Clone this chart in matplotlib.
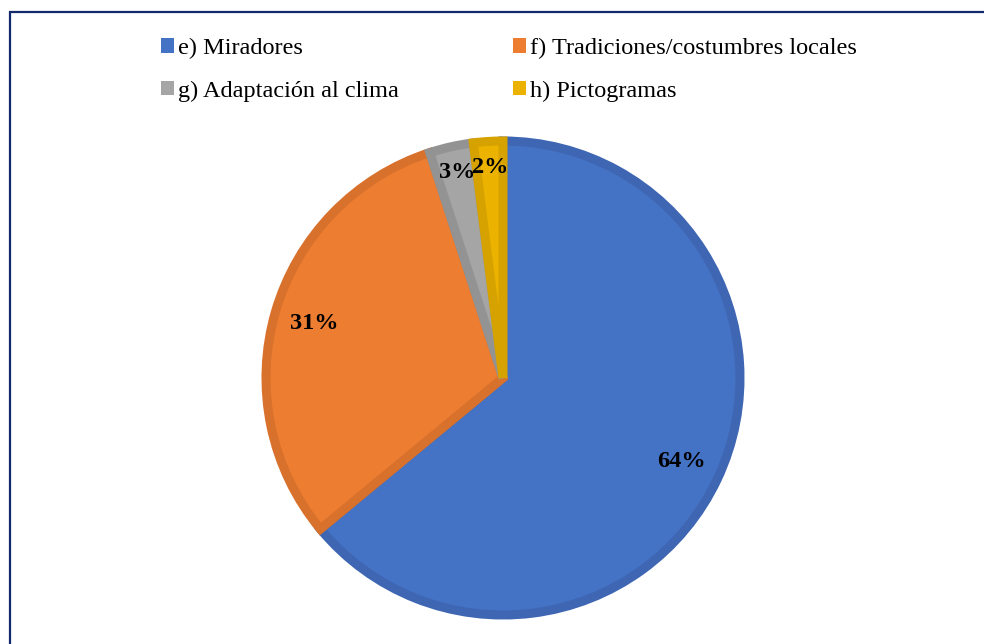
import matplotlib.pyplot as plt
from matplotlib.patches import Rectangle, Patch

labels = ["e) Miradores", "f) Tradiciones/costumbres locales",
          "g) Adaptación al clima", "h) Pictogramas"]
values = [64, 31, 3, 2]

fills = ["#4472C4", "#ED7D31", "#A5A5A5", "#EBB300"]
edges = ["#3F66B2", "#D8712C", "#939393", "#D6A200"]

W, H, DPI = 984, 644, 100
cx, cy, R = 503, 378, 237  # pie centre / radius in pixels

plt.rcParams['font.family'] = ['Liberation Serif', 'DejaVu Serif']

fig = plt.figure(figsize=(W / DPI, H / DPI), dpi=DPI)
ax = fig.add_axes([0, 0, 1, 1])

wedges, texts, autotexts = ax.pie(
    values, colors=fills, startangle=90, counterclock=False,
    autopct=lambda p: f"{p:.0f}%", pctdistance=0.83, radius=1,
    wedgeprops=dict(linewidth=6.5, joinstyle='miter'),
    textprops=dict(fontsize=17.5, fontweight='bold', color='black'))

# pie() resets the limits, so put them back for pixel placement
ax.set_xlim(-cx / R, (W - cx) / R)
ax.set_ylim(-(H - cy) / R, cy / R)
ax.axis('off')

for w, ec in zip(wedges, edges):
    w.set_edgecolor(ec)

# small slices: labels sit a bit further out
for t, v in zip(autotexts, values):
    if v < 5:
        x, y = t.get_position()
        t.set_position((x * 1.07, y * 1.07))

# legend fills by column, so reorder to get e f / g h in rows
order = [0, 2, 1, 3]
handles = [Patch(facecolor=fills[i], edgecolor='none') for i in order]
fig.legend(handles, [labels[i] for i in order], ncol=2, loc='upper left',
           bbox_to_anchor=(161 / W, 1 - 38 / H), frameon=False,
           fontsize=17.5, handlelength=0.55, handleheight=0.55,
           handletextpad=0.15, columnspacing=4.7, labelspacing=0.88,
           borderpad=0, borderaxespad=0)

# outer frame (left and top edges visible)
fig.patches.append(Rectangle((10 / W, -0.1), 1.1, 1 - 11.5 / H + 0.1,
                             transform=fig.transFigure, fill=False,
                             edgecolor='#12296B', linewidth=1.6))

fig.savefig("out.png", dpi=DPI)
